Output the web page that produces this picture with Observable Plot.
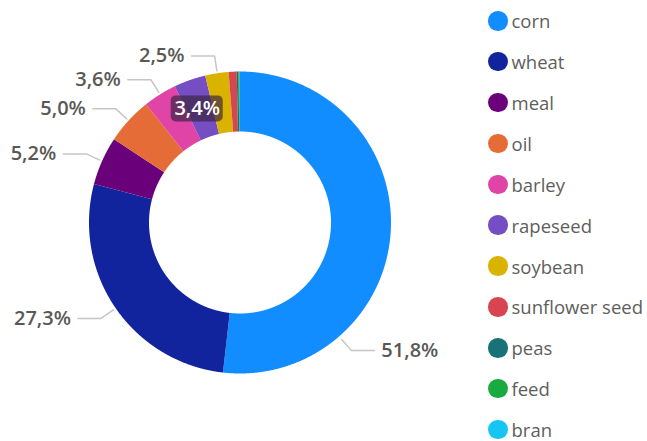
<!DOCTYPE html>
<html><head><meta charset="utf-8">
<script src="https://cdn.jsdelivr.net/npm/d3@7"></script>
<script src="https://cdn.jsdelivr.net/npm/@observablehq/plot@0.6"></script>
<style>
body{margin:0;background:#fff;font-family:"Open Sans",sans-serif;}
#wrap{position:relative;width:647px;height:441px;overflow:hidden;}
#chart{position:absolute;left:0;top:0;}
#legend{position:absolute;left:488px;top:0;}
.item{position:absolute;left:0;height:24px;display:flex;align-items:center;white-space:nowrap;font-size:18.5px;color:#605E5C;}
.sw{width:19.5px;height:19.5px;border-radius:50%;margin-right:4px;flex:none;}
</style></head><body>
<div id="wrap"><div id="chart"></div><div id="legend"></div></div>
<script>
// ---- data ----
const categories = ["corn","wheat","meal","oil","barley","rapeseed","soybean","sunflower seed","peas","feed","bran"];
const shares = [51.8, 27.3, 5.2, 5.0, 3.6, 3.4, 2.5, 0.85, 0.2, 0.12, 0.03];
const labels = ["51,8%","27,3%","5,2%","5,0%","3,6%","3,4%","2,5%",null,null,null,null];
const colors = ["#118DFF","#12239E","#6B007B","#E66C37","#E044A7","#744EC2","#D9B300","#D64550","#197278","#1AAB40","#15C6F4"];

// ---- layout ----
const R = 151, r0 = 91;
const insideLabels = ["rapeseed"];
const labelAngleOverride = {corn: 139};   // degrees, clockwise from top
const W = 475, H = 441, CX = 240, CY = 222.5;

const table = categories.map((c, i) => ({cat: c, share: shares[i], label: labels[i]}));
const arcs = d3.pie().sort(null).value(d => d.share)(table);

const rows = [];
for (const a of arcs) {
  const n = Math.max(2, Math.ceil((a.endAngle - a.startAngle) / 0.004));
  for (let k = 0; k <= n; k++) {
    const t = a.startAngle + (a.endAngle - a.startAngle) * k / n;
    rows.push({cat: a.data.cat, ox: R * Math.sin(t), oy: -R * Math.cos(t), ix: r0 * Math.sin(t), iy: -r0 * Math.cos(t)});
  }
}

const leaders = [], outTexts = [], inTexts = [];
for (const a of arcs) {
  if (!a.data.label) continue;
  const mid = (a.startAngle + a.endAngle) / 2;
  if (insideLabels.includes(a.data.cat)) {
    const rm = (R + r0) / 2;
    inTexts.push({x: rm * Math.sin(mid) - 3, y: -rm * Math.cos(mid), label: a.data.label});
    continue;
  }
  const th = labelAngleOverride[a.data.cat] != null ? labelAngleOverride[a.data.cat] * Math.PI / 180 : mid;
  const dx = Math.sin(th), dy = -Math.cos(th);
  const side = dx >= 0 ? 1 : -1;
  const p0 = [(R + 3) * dx, (R + 3) * dy], p1 = [(R + 18) * dx, (R + 18) * dy], p2 = [p1[0] + side * 23, p1[1]];
  for (const p of [p0, p1, p2]) leaders.push({cat: a.data.cat, x: p[0], y: p[1]});
  outTexts.push({x: p2[0] + side * 7, y: p2[1], label: a.data.label, side});
}

const plot = Plot.plot({
  width: W, height: H, margin: 0,
  x: {domain: [-CX, W - CX], range: [0, W], axis: null},
  y: {domain: [-CY, H - CY], range: [0, H], axis: null},
  color: {domain: categories, range: colors},
  style: {fontFamily: "'Open Sans', sans-serif", background: "white"},
  marks: [
    Plot.area(rows, {x1: "ox", y1: "oy", x2: "ix", y2: "iy", z: "cat", fill: "cat", curve: "linear"}),
    Plot.line(leaders, {x: "x", y: "y", z: "cat", stroke: "#C8C6C4", strokeWidth: 1.5, curve: "linear"}),
    Plot.text(outTexts.filter(d => d.side < 0), {x: "x", y: "y", text: "label", textAnchor: "end", fill: "#5A5856", fontSize: 20, fontWeight: 600}),
    Plot.text(outTexts.filter(d => d.side > 0), {x: "x", y: "y", text: "label", textAnchor: "start", fill: "#5A5856", fontSize: 20, fontWeight: 600}),
    Plot.rect(inTexts, {x1: d => d.x - 26, x2: d => d.x + 26, y1: d => d.y - 13, y2: d => d.y + 13, fill: "#3a2440", fillOpacity: 0.68, rx: 5}),
    Plot.text(inTexts, {x: "x", y: "y", text: "label", fill: "white", fontSize: 20, fontWeight: 600})
  ]
});
document.getElementById("chart").appendChild(plot);

const legend = document.getElementById("legend");
categories.forEach((c, i) => {
  const it = document.createElement("div");
  it.className = "item";
  it.style.top = (20.8 + 40.87 * i - 12) + "px";
  const sw = document.createElement("span");
  sw.className = "sw"; sw.style.background = colors[i];
  const tx = document.createElement("span");
  tx.textContent = c;
  it.appendChild(sw); it.appendChild(tx);
  legend.appendChild(it);
});
</script>
</body></html>
